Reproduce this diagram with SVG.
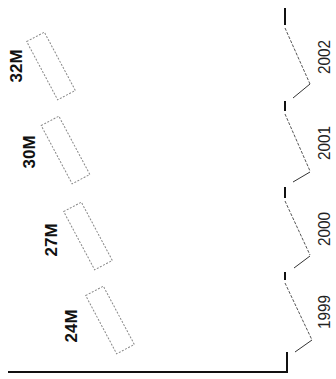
<svg xmlns="http://www.w3.org/2000/svg" width="336" height="379" viewBox="0 0 336 379">
<style>
.bar{fill:none;stroke:#888;stroke-width:1;stroke-dasharray:2 1.5}
.val{font-family:"Liberation Sans",Arial,sans-serif;font-weight:bold;font-size:17px;fill:#111;text-anchor:middle}
.yr{font-family:"Liberation Sans",Arial,sans-serif;font-size:17px;fill:#222;text-anchor:middle}
.thick{stroke:#111;stroke-width:2;fill:none}
.dash{stroke:#555;stroke-width:1;stroke-dasharray:3 1.5;fill:none}
.short{stroke:#333;stroke-width:1;fill:none}
</style>
<rect width="336" height="379" fill="#fff"/>
<g id="bar-2002">
<rect class="bar" x="-10" y="-33" width="20" height="66" transform="translate(51,66) rotate(-28)"/>
<text class="val" transform="translate(22,66) rotate(-90)">32M</text>
</g>
<g id="bar-2001">
<rect class="bar" x="-10" y="-33" width="20" height="66" transform="translate(65.5,150) rotate(-28)"/>
<text class="val" transform="translate(35,152) rotate(-90)">30M</text>
</g>
<g id="bar-2000">
<rect class="bar" x="-10" y="-33" width="20" height="66" transform="translate(88,236) rotate(-28)"/>
<text class="val" transform="translate(57,240) rotate(-90)">27M</text>
</g>
<g id="bar-1999">
<rect class="bar" x="-10" y="-33" width="20" height="66" transform="translate(110,320) rotate(-28)"/>
<text class="val" transform="translate(77,326) rotate(-90)">24M</text>
</g>
<g id="year-labels">
<text class="yr" textLength="34" lengthAdjust="spacingAndGlyphs" transform="translate(330,57) rotate(-90)">2002</text>
<text class="yr" textLength="34" lengthAdjust="spacingAndGlyphs" transform="translate(330,143) rotate(-90)">2001</text>
<text class="yr" textLength="34" lengthAdjust="spacingAndGlyphs" transform="translate(330,229) rotate(-90)">2000</text>
<text class="yr" textLength="34" lengthAdjust="spacingAndGlyphs" transform="translate(330,312) rotate(-90)">1999</text>
</g>
<g id="connectors">
<line class="thick" x1="285" y1="8" x2="285" y2="25"/>
<line class="dash" x1="285" y1="28" x2="310" y2="84"/>
<line class="short" x1="310" y1="84" x2="293" y2="98"/>
<line class="thick" x1="285" y1="101" x2="285" y2="111"/>
<line class="dash" x1="285" y1="114" x2="310" y2="171"/>
<line class="short" x1="310" y1="172" x2="293" y2="182"/>
<line class="thick" x1="285" y1="187" x2="285" y2="198"/>
<line class="dash" x1="285" y1="201" x2="310" y2="255"/>
<line class="short" x1="310" y1="256" x2="294" y2="268"/>
<line class="thick" x1="285" y1="272" x2="285" y2="280"/>
<line class="dash" x1="285" y1="283" x2="312" y2="340"/>
<line class="short" x1="312" y1="340" x2="295" y2="352"/>
<polyline class="thick" points="287,352 287,372 8,372"/>
</g>
</svg>
